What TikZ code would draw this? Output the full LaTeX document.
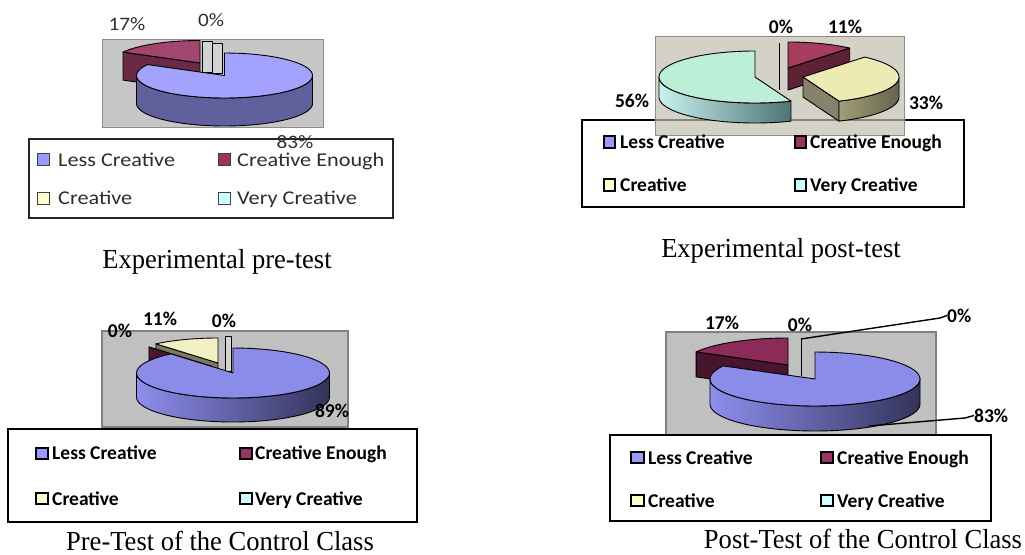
\documentclass[tikz,border=0pt]{standalone}
\usepackage{fontspec}
\setmainfont{Liberation Serif}
\newfontfamily\carlito{Carlito}

% slice colours
\definecolor{lessC}{HTML}{9999FF}
\definecolor{enoughC}{HTML}{993366}
\definecolor{creatC}{HTML}{FFFFCC}
\definecolor{veryC}{HTML}{CCFFFF}
\definecolor{bAtop}{HTML}{A3A3FF}
\definecolor{bAside}{HTML}{60609C}
\definecolor{mAtop}{HTML}{A3466F}
\definecolor{mAside}{HTML}{6A2A45}
\definecolor{mBtop}{HTML}{A63D5E}
\definecolor{mBside}{HTML}{5C2234}
\definecolor{yBtop}{HTML}{EEEAB4}
\definecolor{yBface}{HTML}{85836A}
\definecolor{yBrimL}{HTML}{A09E78}
\definecolor{yBrimR}{HTML}{66644C}
\definecolor{cBtop}{HTML}{BDEED8}
\definecolor{cBrimL}{HTML}{C6F2F0}
\definecolor{cBrimM}{HTML}{A8D8D8}
\definecolor{cBrimR}{HTML}{4F7474}
\definecolor{bCtop}{HTML}{8B8BEA}
\definecolor{bCrimL}{HTML}{8E8EEE}
\definecolor{bCrimM}{HTML}{7070C8}
\definecolor{bCrimR}{HTML}{33335A}
\definecolor{mDtop}{HTML}{8C2A58}
\definecolor{mDside}{HTML}{48152E}
\definecolor{yCtop}{HTML}{F2F0C4}
\definecolor{yCface}{HTML}{7C7A5C}
\definecolor{mCside}{HTML}{4A1530}
\definecolor{areaA}{HTML}{C6C6C6}
\definecolor{areaB}{HTML}{C2BFAE}
\definecolor{areaC}{HTML}{C0C0C0}
\definecolor{zeroC}{HTML}{D2D2D2}
\definecolor{textA}{HTML}{2E2E2E}

% top face of a slice: [style]{cx}{cy}{rx}{ry}{from}{to}, angles clockwise from 12 o'clock
\newcommand\pietop[7][]{%
  \path[#1] (#2,#3) -- plot[domain=#6:#7,samples=60] ({#2+#4*sin(\x)},{#3-#5*cos(\x)}) -- cycle;}
% outer rim of a slice: [style]{cx}{cy}{rx}{ry}{from}{to}{depth}
\newcommand\pierim[8][]{%
  \path[#1] plot[domain=#6:#7,samples=60] ({#2+#4*sin(\x)},{#3-#5*cos(\x)})
    -- plot[domain=#7:#6,samples=60] ({#2+#4*sin(\x)},{#3+#8-#5*cos(\x)}) -- cycle;}
% radial cut face: [style]{cx}{cy}{rx}{ry}{angle}{depth}
\newcommand\pieface[7][]{%
  \path[#1] (#2,#3) -- ({#2+#4*sin(#6)},{#3-#5*cos(#6)}) -- ++(0,#7) -- (#2,{#3+#7}) -- cycle;}
% caption text, slightly condensed
\newcommand\captext[1]{\scalebox{0.965}[1]{#1}}

\tikzset{
  edge/.style={draw=black, line width=0.9pt, line join=round},
  pctA/.style={font=\carlito\fontsize{19}{20}\selectfont, text=textA, inner sep=0pt},
  pct/.style={font=\carlito\bfseries\fontsize{19.5}{20}\selectfont, inner sep=0pt},
  legA/.style={font=\carlito\fontsize{19.5}{20}\selectfont, text=textA, anchor=base west, inner sep=0pt},
  leg/.style={font=\carlito\bfseries\fontsize{19.5}{20}\selectfont, anchor=base west, inner sep=0pt},
  caption/.style={font=\fontsize{27.5}{30}\selectfont, anchor=base, inner sep=0pt},
  legboxA/.style={draw=black!85, line width=1.3pt, fill=white},
  legbox/.style={draw=black, line width=2pt, fill=white},
  keyA/.style={draw=black!75, line width=1pt},
  key/.style={draw=black, line width=1.7pt},
  areaStyleA/.style={fill=areaA, draw=black!45, line width=1pt},
  areaStyle/.style={fill=areaC, draw=black!50, line width=1.5pt},
  callout/.style={draw=black, line width=1.4pt}
}

\begin{document}
\begin{tikzpicture}[x=1pt,y=-1pt]
\useasboundingbox (0,0) rectangle (1025,554);

% ---------------- Experimental pre-test ----------------
\draw[areaStyleA] (102,39) rectangle (323,127);
\pieface[edge, fill=mAside]{200}{63}{88}{22.5}{299}{28}
\pietop[edge, fill=mAtop]{200}{63}{88}{22.5}{299}{360}
\draw[edge, fill=zeroC] (202,41) rectangle (212,72);
\draw[edge, fill=zeroC] (212,43) rectangle (222,73);
\pierim[edge, fill=bAside]{224.5}{75.5}{88}{22.5}{90}{270}{28}
\pietop[edge, fill=bAtop]{224.5}{75.5}{88}{22.5}{0}{299}
\node[pctA] (a17) at (127,24) {\scalebox{1.12}[1]{17\%}};
\node[pctA] (a0) at (211,20.5) {\scalebox{1.12}[1]{0\%}};
\draw[legboxA] (29,139) rectangle (393,218);
\node[pctA] (a83) at (295,142) {\scalebox{1.12}[1]{83\%}};
\draw[keyA, fill=lessC] (37,153) rectangle (49,165);
\draw[keyA, fill=enoughC] (218,153) rectangle (230,165);
\draw[keyA, fill=creatC] (37,192) rectangle (49,204);
\draw[keyA, fill=veryC] (218,192) rectangle (230,204);
\node[legA] (aL1) at (58,166.5) {\scalebox{1.14}[1]{Less Creative}};
\node[legA] (aL2) at (237,166.5) {\scalebox{1.14}[1]{Creative Enough}};
\node[legA] (aL3) at (58,204.5) {\scalebox{1.14}[1]{Creative}};
\node[legA] (aL4) at (237,204.5) {\scalebox{1.14}[1]{Very Creative}};
\node[caption] (capA) at (217,268) {\captext{Experimental pre-test}};

% ---------------- Experimental post-test ----------------
\draw[legbox] (582,120) rectangle (964,207);
\draw[fill=areaB, fill opacity=0.7, draw=black!45, line width=1pt] (655,36) rectangle (904,135);
\pieface[edge, fill=mBside]{788}{68}{96}{26}{40}{22}
\pietop[edge, fill=mBtop]{788}{68}{96}{26}{0}{40}
\draw[line width=1pt] (779,43) -- (779,90);
\pieface[edge, fill=yBface]{803}{77}{96}{26}{158}{20}
\pierim[edge, left color=yBrimL, right color=yBrimR]{803}{77}{96}{26}{90}{158}{20}
\pietop[edge, fill=yBtop]{803}{77}{96}{26}{40}{158}
\pierim[edge, left color=cBrimL, middle color=cBrimM, right color=cBrimR]{755}{77}{96}{26}{158}{270}{20}
\pietop[edge, fill=cBtop]{755}{77}{96}{26}{158}{360}
\node[pct] (b0) at (781,27) {0\%};
\node[pct] (b11) at (845,27) {11\%};
\node[pct] (b56) at (632,101) {56\%};
\node[pct] (b33) at (926,103) {33\%};
\draw[key, fill=lessC] (604,136) rectangle (615,148);
\draw[key, fill=enoughC] (795,136) rectangle (806,148);
\draw[key, fill=creatC] (604,179) rectangle (615,191);
\draw[key, fill=veryC] (795,179) rectangle (806,191);
\node[leg] (bL1) at (620,148.5) {Less Creative};
\node[leg] (bL2) at (810,148.5) {Creative Enough};
\node[leg] (bL3) at (620,191.5) {Creative};
\node[leg] (bL4) at (810,191.5) {Very Creative};
\node[caption] (capB) at (781,257) {\captext{Experimental post-test}};

% ---------------- Pre-Test of the Control Class ----------------
\draw[areaStyle] (102,331) rectangle (348,427);
\pieface[edge, fill=yCface]{218}{363}{96.5}{25}{320}{24}
\pieface[edge, fill=mCside]{211}{366}{96.5}{25}{320}{24}
\pietop[edge, fill=yCtop]{218}{363}{96.5}{25}{320}{360}
\draw[edge, fill=zeroC] (225,336) rectangle (231,371);
\pierim[edge, left color=bCrimL, middle color=bCrimM, right color=bCrimR]{233}{373}{96.5}{25}{90}{270}{24}
\pietop[edge, fill=bCtop]{233}{373}{96.5}{25}{0}{320}
\node[pct] (c0a) at (120,331) {0\%};
\node[pct] (c11) at (160,318.5) {11\%};
\node[pct] (c0b) at (224,321) {0\%};
\node[pct] (c89) at (332,411) {89\%};
\draw[legbox] (8,429) rectangle (417,522);
\draw[key, fill=lessC] (36,448) rectangle (48,459);
\draw[key, fill=enoughC] (240,448) rectangle (252,459);
\draw[key, fill=creatC] (36,493) rectangle (48,504);
\draw[key, fill=veryC] (240,493) rectangle (252,504);
\node[leg] (cL1) at (52,459.5) {Less Creative};
\node[leg] (cL2) at (255,459.5) {Creative Enough};
\node[leg] (cL3) at (52,505.5) {Creative};
\node[leg] (cL4) at (255,505.5) {Very Creative};
\node[caption] (capC) at (220,550) {\captext{Pre-Test of the Control Class}};

% ---------------- Post-Test of the Control Class ----------------
\draw[areaStyle] (666,332) rectangle (936,437);
\pieface[edge, fill=mDside]{788}{365}{105}{27}{299}{25}
\pietop[edge, fill=mDtop]{788}{365}{105}{27}{299}{360}
\pierim[edge, left color=bCrimL, middle color=bCrimM, right color=bCrimR]{815}{379}{105}{27}{90}{270}{25}
\pietop[edge, fill=bCtop]{815}{379}{105}{27}{0}{299}
\coordinate (dz0) at (801,376);
\coordinate (dz1) at (801,339);
\coordinate (dz2) at (940,318);
\coordinate (d83a) at (869,426);
\coordinate (d83b) at (965,418);
\draw[line width=1pt] (dz0) -- (dz1);
\node[pct] (d17) at (722,323) {17\%};
\node[pct] (d0a) at (800,325) {0\%};
\node[pct, anchor=west] (d0b) at (947,315.5) {0\%};
\node[pct, anchor=west] (d83) at (974,415.5) {83\%};
\draw[callout] (dz1) -- (dz2) -- (d0b.west);
\draw[callout] (d83a) -- (d83b) -- (d83.west);
\draw[legbox] (610,435) rectangle (991,521);
\draw[key, fill=lessC] (631,452) rectangle (644,463);
\draw[key, fill=enoughC] (821,452) rectangle (833,463);
\draw[key, fill=creatC] (631,495) rectangle (644,506);
\draw[key, fill=veryC] (821,495) rectangle (833,506);
\node[leg] (dL1) at (648,464.5) {Less Creative};
\node[leg] (dL2) at (837,464.5) {Creative Enough};
\node[leg] (dL3) at (648,507.5) {Creative};
\node[leg] (dL4) at (837,507.5) {Very Creative};
\node[caption] (capD) at (863,548) {\captext{Post-Test of the Control Class}};
\end{tikzpicture}
\end{document}
